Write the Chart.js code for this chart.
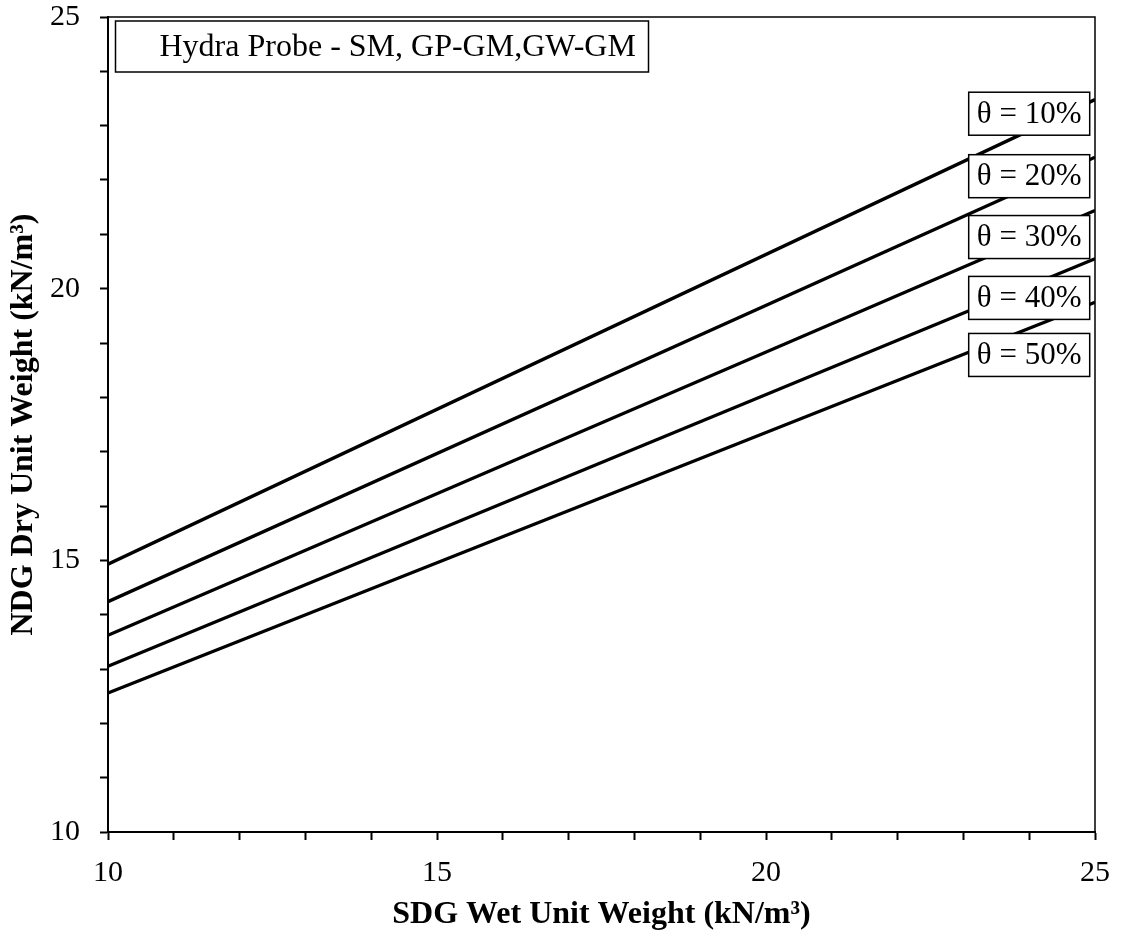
<!DOCTYPE html>
<html>
<head>
<meta charset="utf-8">
<script src="https://cdn.jsdelivr.net/npm/chart.js@4/dist/chart.umd.min.js"></script>
<style>
  html, body { margin: 0; padding: 0; background: #fff; }
  #wrap { width: 1125px; height: 936px; }
</style>
</head>
<body>
<div id="wrap"><canvas id="myChart" width="1125" height="936"></canvas></div>
<script>
"use strict";
// wet unit weight at the two ends of each line
const wetWeight = [10, 25];
// dry unit weight for each water content
const dry10 = [14.93, 23.48];
const dry20 = [14.24, 22.42];
const dry30 = [13.62, 21.44];
const dry40 = [13.05, 20.55];
const dry50 = [12.56, 19.75];
const seriesNames = ["θ = 10%", "θ = 20%", "θ = 30%", "θ = 40%", "θ = 50%"];
// where the θ labels sit (data units)
const labelWet = 24.0;
const labelDry = [23.22, 22.07, 20.95, 19.83, 18.78];
const boxTitle = "Hydra Probe - SM, GP-GM,GW-GM";
const xTitle = "SDG Wet Unit Weight (kN/m³)";
const yTitle = "NDG Dry Unit Weight (kN/m³)";

const serif = "'Liberation Serif', 'Times New Roman', serif";
const allDry = [dry10, dry20, dry30, dry40, dry50];

const datasets = allDry.map((ys, i) => ({
    label: seriesNames[i],
    data: wetWeight.map((x, j) => ({ x: x, y: ys[j] })),
    borderColor: "#000",
    borderWidth: 3.3,
    pointRadius: 0,
    tension: 0,
    fill: false
}));

// top/right frame lines
const framePlugin = {
    id: "frame",
    afterDraw(chart) {
        const { ctx, chartArea: a } = chart;
        ctx.save();
        ctx.strokeStyle = "#000";
        ctx.lineWidth = 1.5;
        ctx.beginPath();
        ctx.moveTo(a.left, a.top);
        ctx.lineTo(a.right, a.top);
        ctx.lineTo(a.right, a.bottom);
        ctx.stroke();
        ctx.restore();
    }
};

// boxed labels
const labelPlugin = {
    id: "boxLabels",
    afterDatasetsDraw(chart) {
        const { ctx, chartArea: a } = chart;
        const xs = chart.scales.x, ys = chart.scales.y;
        ctx.save();
        ctx.lineWidth = 1.5;
        ctx.strokeStyle = "#000";
        ctx.fillStyle = "#000";
        ctx.textBaseline = "middle";
        ctx.font = "31px " + serif;
        seriesNames.forEach((name, i) => {
            const cx = xs.getPixelForValue(labelWet);
            const cy = ys.getPixelForValue(labelDry[i]);
            const w = 121, h = 43;
            ctx.fillStyle = "#fff";
            ctx.fillRect(cx - w / 2, cy - h / 2, w, h);
            ctx.strokeRect(cx - w / 2, cy - h / 2, w, h);
            ctx.fillStyle = "#000";
            ctx.textAlign = "center";
            ctx.fillText(name, cx, cy + 1);
        });
        // title box top-left
        const bx = a.left + 7.5, by = a.top + 4, bw = 533, bh = 51;
        ctx.fillStyle = "#fff";
        ctx.fillRect(bx, by, bw, bh);
        ctx.strokeRect(bx, by, bw, bh);
        ctx.fillStyle = "#000";
        ctx.textAlign = "left";
        ctx.font = "32px " + serif;
        ctx.fillText(boxTitle, bx + 44, by + bh / 2 + 1);
        ctx.restore();
    }
};

const tickFont = { family: serif, size: 30 };
const titleFont = { family: serif, size: 32, weight: "bold" };

function axis(minV, maxV, title, pad, fitFn, titlePad) {
    return {
        type: "linear",
        min: minV,
        max: maxV,
        afterFit: fitFn,
        ticks: {
            stepSize: 1,
            autoSkip: false,
            maxRotation: 0,
            color: "#000",
            font: tickFont,
            padding: pad,
            callback: v => (v % 5 === 0 ? v : "")
        },
        grid: {
            drawOnChartArea: false,
            drawTicks: true,
            tickLength: 8,
            tickColor: "#000",
            tickWidth: 2
        },
        border: { color: "#000", width: 2 },
        title: {
            display: true,
            text: title,
            color: "#000",
            font: titleFont,
            padding: titlePad
        }
    };
}

new Chart("myChart", {
    type: "line",
    data: { datasets: datasets },
    options: {
        responsive: false,
        animation: false,
        layout: { padding: { top: 17, right: 30, left: 0, bottom: 0 } },
        plugins: {
            legend: { display: false },
            tooltip: { enabled: false }
        },
        scales: {
            x: axis(10, 25, xTitle, 15, s => {
                s.height = 104;
                s.paddingLeft = 0;
                s.paddingRight = 0;
            }, { top: 0, bottom: 2 }),
            y: axis(10, 25, yTitle, 20, s => {
                s.width = 108;
                s.paddingTop = 0;
                s.paddingBottom = 0;
            }, { top: 5, bottom: 0 })
        }
    },
    plugins: [framePlugin, labelPlugin]
});
</script>
</body>
</html>
